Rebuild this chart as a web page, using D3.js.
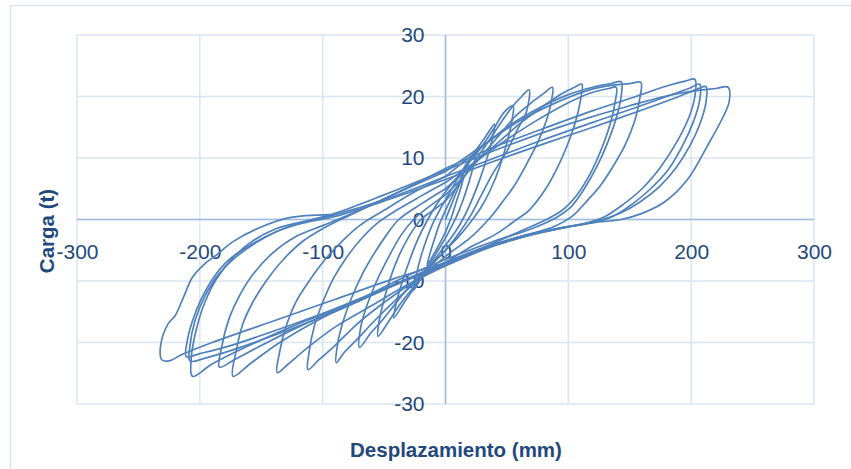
<!DOCTYPE html>
<html>
<head>
<meta charset="utf-8">
<style>
  html, body { margin: 0; padding: 0; background: #fff; }
  svg { display: block; }
  .tick text { font-family: "Liberation Sans", Arial, sans-serif; font-size: 21px; fill: #1f497d; }
  .titulo { font-family: "Liberation Sans", Arial, sans-serif; font-weight: bold; font-size: 20.5px; fill: #1f497d; }
</style>
</head>
<body>
<svg id="grafico" width="851" height="469"></svg>
<script src="https://cdnjs.cloudflare.com/ajax/libs/d3/7.8.5/d3.min.js"></script>
<script>
// ciclos de carga: [desplazamiento (mm), carga (t)]
const c01 = [[0,0],[5,2.5],[10,5],[15,7.2],[13,5.5],[9,3],[5,0.5],[0,-2],[-5,-4],[-10,-5.8],[-15,-7.5],[-13,-5.8],[-9,-3.2],[-5,-0.8],[0,1.5]];
const c02 = [[0,1.5],[6,4],[12,6.5],[18,8.8],[25,11.2],[23,9],[19,6],[14,3],[9,0.5],[4,-1.5],[0,-3],[-6,-5],[-12,-7],[-19,-9.3],[-26,-11.5],[-24,-9.2],[-20,-6],[-15,-3],[-10,-0.5],[-4,1.8],[0,3.2]];
const c03 = [[0,3.2],[8,6],[16,8.7],[24,11],[32,13.3],[40,15.5],[38,13],[33,9.5],[27,6],[20,2.5],[14,0],[8,-2],[0,-4.2],[-8,-6.3],[-16,-8.5],[-25,-11],[-33,-13.3],[-42,-16],[-40,-13.5],[-35,-10],[-29,-6.5],[-22,-3],[-15,-0.2],[-8,2.2],[0,4.5]];
const c04 = [[0,4.5],[10,7],[20,9.5],[30,12],[40,15],[48,17.5],[55,18.5],[54,16],[50,12.5],[44,8.5],[37,5],[29,2],[22,0],[12,-2.5],[0,-5],[-12,-7.5],[-24,-10.5],[-36,-13.5],[-46,-16.5],[-55,-19],[-54,-16.5],[-50,-13],[-44,-9],[-37,-5.5],[-29,-2.5],[-20,0],[-10,1.5],[0,3]];
const c05 = [[0,3],[12,6],[24,9.5],[36,13],[46,16],[55,18.5],[62,20],[68,21.1],[66,17.6],[58,14.4],[50,11.1],[38,7.3],[28,3.5],[20,0.5],[10,-2.5],[0,-5],[-15,-8],[-30,-11],[-42,-14],[-52,-16.5],[-61,-18.5],[-70,-20.8],[-69,-17.5],[-64,-14],[-56,-10],[-46,-6],[-36,-2.5],[-26,0],[-14,2],[0,4]];
const c06 = [[0,4],[15,7],[30,10.5],[45,14],[58,17],[70,19],[80,20.5],[87,21.5],[86,19],[82,16],[75,12.5],[66,9],[56,5.5],[45,2.5],[35,0],[20,-3],[0,-6],[-20,-9.5],[-40,-13],[-58,-16.5],[-72,-19.5],[-82,-21.5],[-89,-23.3],[-88,-20.5],[-84,-17],[-77,-13],[-68,-9],[-58,-5.5],[-48,-2.5],[-38,0],[-20,2.5],[0,5]];
const c07 = [[0,5],[20,8.5],[40,12],[60,15.5],[80,18.5],[95,20.5],[105,21.5],[111,22],[110,19.5],[106,16],[99,12],[90,8],[80,4.5],[68,1.5],[58,0],[40,-2.5],[20,-4.5],[0,-7],[-25,-10],[-50,-13.5],[-72,-17],[-90,-20.5],[-103,-22.8],[-112,-24.4],[-111,-21.5],[-107,-17.5],[-100,-13.5],[-91,-9.5],[-80,-6],[-68,-3],[-55,-0.5],[-40,1.5],[-20,3.8],[0,6]];
const c08 = [[0,6],[25,9.5],[50,13],[75,16.2],[100,19],[120,20.7],[133,21.3],[139,21.5],[138,19],[134,15.5],[127,11.5],[118,7.5],[107,4],[95,1.5],[82,0],[60,-2],[35,-4.2],[0,-7.5],[-30,-10.5],[-60,-14],[-90,-17.5],[-112,-20.8],[-128,-23.5],[-137,-24.9],[-135,-21.5],[-130,-17.5],[-122,-13.5],[-111,-10],[-98,-6.5],[-84,-3.5],[-70,-1],[-50,1.5],[-25,4.5],[0,7]];
const c09 = [[0,7],[25,11],[50,15],[75,18],[100,20.3],[120,21.5],[135,22.1],[143,22.4],[143,20],[139,16.5],[132,12.5],[123,8.5],[113,5],[102,2],[90,0.3],[70,-1.5],[40,-3.5],[0,-6.5],[-35,-9.5],[-70,-13],[-105,-16.5],[-135,-20],[-158,-23.3],[-173,-25.5],[-170,-21],[-165,-17],[-157,-13.5],[-146,-10],[-132,-6.5],[-116,-3.5],[-100,-1.5],[-80,0.5],[-45,3.8],[0,7.8]];
const c10 = [[0,7.8],[30,12],[60,16],[90,19],[116,21],[135,21.8],[150,22.1],[159,22.3],[158,19.5],[154,16],[146,12],[136,8.5],[126,5.5],[116,3.2],[103,0.5],[89,-1.1],[60,-2.8],[30,-4.6],[0,-7],[-40,-10.5],[-80,-14],[-120,-17.5],[-150,-20.5],[-172,-22.8],[-184,-24],[-182,-20.5],[-176,-16],[-168,-12.5],[-157,-9],[-141,-5.5],[-121,-2.7],[-100,-1],[-70,1.5],[-35,4.8],[0,8.3]];
const c11 = [[0,8.3],[40,11.8],[80,14.8],[120,17.7],[155,20],[180,21.7],[195,22.5],[203,22.8],[203,20],[198,16.5],[188,12.5],[175,8.5],[160,5],[145,2.5],[130,0.5],[116,-0.5],[90,-1.5],[60,-3],[30,-5],[0,-7.5],[-40,-10.5],[-80,-14],[-120,-17],[-160,-20.5],[-190,-23.5],[-206,-25.5],[-207,-22.5],[-203,-18],[-196,-13.5],[-186,-9.5],[-172,-6],[-157,-3.5],[-138,-1.5],[-115,-0.3],[-90,0.8],[-50,3.2],[0,7]];
const c12 = [[0,7],[40,10],[80,13],[120,15.8],[155,18.2],[180,20],[198,21.3],[207,22],[207,19.5],[202,16],[193,12],[181,8],[167,5],[152,2.5],[136,0.5],[120,-0.5],[95,-1.3],[60,-2.8],[30,-4.8],[0,-7.2],[-45,-11],[-90,-15],[-135,-18.5],[-170,-21],[-195,-22.5],[-208,-23],[-208,-20.5],[-204,-16.5],[-196,-12.5],[-185,-9],[-170,-6],[-152,-3.5],[-132,-1.5],[-112,-0.4],[-90,0.5],[-50,3],[0,6.5]];
const c13 = [[0,6.5],[40,9.5],[80,12.3],[120,15],[160,17.8],[190,20],[205,21.2],[212,21.6],[212,19],[207,15.5],[199,12],[188,8.5],[174,5.3],[158,2.8],[142,1],[125,-0.2],[100,-1.2],[70,-2.5],[35,-4.5],[0,-7],[-45,-10.8],[-90,-14.5],[-135,-17.8],[-175,-20.5],[-200,-21.8],[-211,-22.3],[-210,-19.5],[-206,-16.5],[-199,-13],[-189,-9.5],[-176,-6.5],[-160,-4.3],[-138,-2],[-113,-0.3],[-90,1],[-50,4],[0,8]];
const c14 = [[0,8],[50,12],[100,15.5],[150,18.5],[190,20.5],[220,21.3],[230,21.5],[231,19.2],[225,16.3],[213,11.9],[197,6.5],[178,2.8],[160,1],[143,0],[120,-0.5],[100,-1.2],[75,-2.2],[50,-3.6],[20,-5.4],[0,-7],[-40,-9.5],[-90,-13],[-140,-16.5],[-190,-20],[-215,-22],[-225,-23],[-231,-22.8],[-232,-20.6],[-226,-17],[-220,-15.6],[-213,-12.5],[-206,-9.4],[-196,-7.2],[-186,-5.7],[-173,-3.6],[-151,-1.3],[-127,0.3],[-94,0.8]];
const ciclos = [c01, c02, c03, c04, c05, c06, c07, c08, c09, c10, c11, c12, c13, c14];

const ticksX = [-300, -200, -100, 0, 100, 200, 300];
const ticksY = [-30, -20, -10, 0, 10, 20, 30];

const svg = d3.select("#grafico");

const x = d3.scaleLinear().domain([-300, 300]).range([77, 814]);
const y = d3.scaleLinear().domain([-30, 30]).range([404, 35]);

// marco del grafico
svg.append("rect")
    .attr("x", 10.5).attr("y", 5.5)
    .attr("width", 900).attr("height", 500)
    .attr("fill", "none")
    .attr("stroke", "#dbe5f1")
    .attr("stroke-width", 1.5);

// rejilla
const grid = svg.append("g").attr("stroke", "#dbe5f1").attr("stroke-width", 1.5);
grid.selectAll("line.v").data(ticksX).join("line")
    .attr("class", "v")
    .attr("x1", d => x(d)).attr("x2", d => x(d))
    .attr("y1", y(-30)).attr("y2", y(30));
grid.selectAll("line.h").data(ticksY).join("line")
    .attr("class", "h")
    .attr("x1", x(-300)).attr("x2", x(300))
    .attr("y1", d => y(d)).attr("y2", d => y(d));

// ejes en cero
const ejeX = svg.append("g")
    .attr("transform", `translate(0,${y(0)})`)
    .call(d3.axisBottom(x).tickValues(ticksX).tickFormat(d => String(d)).tickSize(0).tickPadding(25));
const ejeY = svg.append("g")
    .attr("transform", `translate(${x(0)},0)`)
    .call(d3.axisLeft(y).tickValues(ticksY).tickFormat(d => String(d)).tickSize(0).tickPadding(21));
[ejeX, ejeY].forEach(g => {
  g.select(".domain").attr("stroke", "#9fbbe0").attr("stroke-width", 1.5);
});
ejeY.select(".domain").attr("d", `M0,${y(-30)}V${y(30)}`);
ejeX.select(".domain").attr("d", `M${x(-300)},0H${x(300)}`);

// curvas de histeresis
const linea = d3.line()
    .x(d => x(d[0]))
    .y(d => y(d[1]))
    .curve(d3.curveCatmullRom.alpha(0.5));

svg.append("g")
    .selectAll("path")
    .data(ciclos)
    .join("path")
    .attr("d", linea)
    .attr("fill", "none")
    .attr("stroke", "#4f81bd")
    .attr("stroke-width", 1.7)
    .attr("stroke-linejoin", "round");

// titulos
svg.append("text")
    .attr("class", "titulo")
    .attr("x", 456).attr("y", 457)
    .attr("text-anchor", "middle")
    .text("Desplazamiento (mm)");
svg.append("text")
    .attr("class", "titulo")
    .attr("transform", "translate(54,231) rotate(-90)")
    .attr("text-anchor", "middle")
    .text("Carga (t)");
</script>
</body>
</html>
